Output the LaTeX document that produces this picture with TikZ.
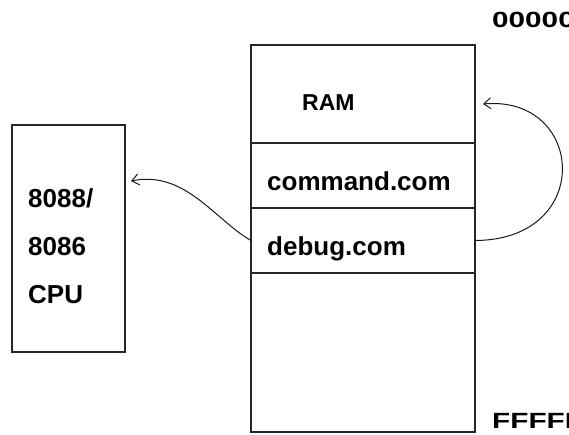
\documentclass[tikz,border=0pt]{standalone}
\usepackage{fontspec}
\setmainfont{Liberation Sans}
\usetikzlibrary{positioning,arrows.meta}

\begin{document}
\begin{tikzpicture}[
      x=1pt, y=-1pt,
      box/.style={draw=black!85, line width=1.6pt, inner sep=0pt, outer sep=0pt},
      cell/.style={box, minimum width=224pt},
      txt/.style={inner sep=0pt, anchor=base west, font=\fontsize{26}{28}\selectfont\bfseries},
      addr/.style={inner sep=0pt, anchor=base west, font=\fontsize{22}{24}\selectfont\bfseries},
      link/.style={line width=1pt, draw=black!90, -{Straight Barb[length=7pt,width=11pt]}},
    ]
    \useasboundingbox (0,0) rectangle (569,434);

    % -------------------------------------------------------
    %  CPU
    % -------------------------------------------------------
    \node[box, anchor=north west, minimum width=113pt, minimum height=227pt] (cpu) at (12,125) {};
    \node[txt] (cpu1) at (28,207) {8088/};
    \node[txt] (cpu2) at (28,255) {8086};
    \node[txt] (cpu3) at (28,303) {CPU};

    % -------------------------------------------------------
    %  Memory column
    % -------------------------------------------------------
    \node[cell, anchor=north west, minimum height=98pt] (ram) at (251,45) {};
    \node[cell, below=0pt of ram, minimum height=65pt] (cmd) {};
    \node[cell, below=0pt of cmd, minimum height=65pt] (dbg) {};
    \node[cell, below=0pt of dbg, minimum height=159pt] (rest) {};

    \node[txt, font=\fontsize{23}{25}\selectfont\bfseries] (ramtxt) at (302,110) {RAM};
    \node[txt] (cmdtxt) at (267,190) {command.com};
    \node[txt] (dbgtxt) at (267,255) {debug.com};

    % addresses
    \node[addr] (lo) at (492,27) {\scalebox{1.35}[1]{00000}};
    \node[addr] (hi) at (492,428) {\scalebox{1.35}[1]{FFFFF}};

    % -------------------------------------------------------
    %  Links
    % -------------------------------------------------------
    \coordinate (cpuin) at (131,181);
    \coordinate (ramin) at (483,104);
    \draw[link] (dbg.west) .. controls (215,220) and (185,170) .. (cpuin);
    \draw[link] (dbg.east) .. controls (595,240) and (585,95) .. (ramin);

  \end{tikzpicture}
\end{document}
